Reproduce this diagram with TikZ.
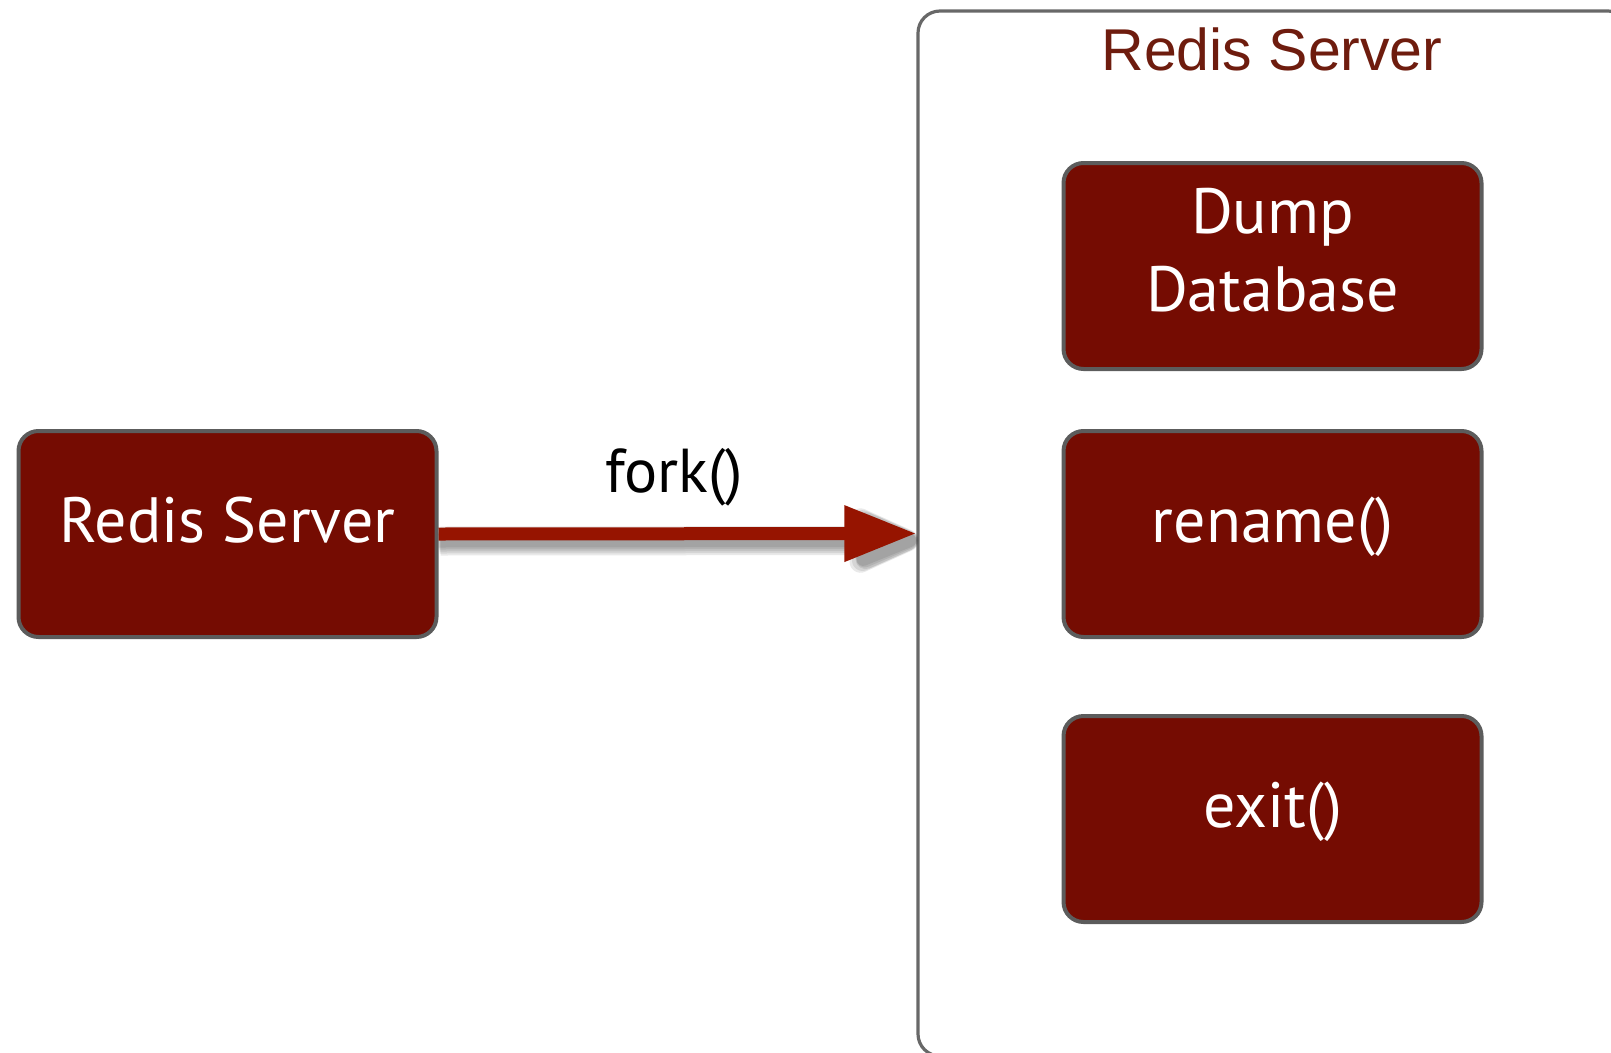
\documentclass[tikz,border=0pt]{standalone}
\usepackage{fontspec}
\newfontfamily\boxfont{PT Sans}
\newfontfamily\titlefont{Liberation Sans}
\usetikzlibrary{arrows.meta}
\definecolor{boxred}{RGB}{117,12,2}
\definecolor{boxline}{RGB}{92,92,92}
\definecolor{arrowred}{RGB}{150,20,0}
\definecolor{titlered}{RGB}{110,28,14}
\definecolor{frameline}{RGB}{104,104,104}
\begin{document}
\begin{tikzpicture}[x=1pt,y=-1pt,
  procbox/.style={draw=boxline, line width=4pt, fill=boxred, rounded corners=20pt,
    minimum width=418pt, minimum height=206pt, inner sep=0pt, text=white,
    font=\boxfont\fontsize{64}{78}\selectfont, align=center},
  oneline/.style={text height=46pt, text depth=30pt},
  hostframe/.style={draw=frameline, line width=3.2pt, rounded corners=22pt,
    minimum width=712pt, minimum height=1045pt, inner sep=0pt},
  hosttitle/.style={text=titlered, font=\titlefont\fontsize{59}{70}\selectfont, anchor=base},
  forklabel/.style={text=black, font=\boxfont\fontsize{62}{70}\selectfont, anchor=base},
  forkarrow/.style={draw=arrowred, fill=arrowred, line width=13pt, -{Triangle[length=72pt,width=53pt]}}
]
\useasboundingbox (0,0) rectangle (1611,1052);

% outer container
\node[hostframe] (host) at (1274,533.5) {};
\node[hosttitle] (title) at (1272,70) {Redis Server};

% left server
\node[procbox, oneline] (src) at (227.5,534) {Redis Server};

% child steps
\node[procbox, text height=124pt, text depth=34pt] (dump) at (1272.5,266) {Dump\\Database};
\node[procbox, oneline] (ren) at (1272.5,534) {rename()};
\node[procbox, oneline] (ext) at (1272.5,819) {exit()};

% soft shadow of the fork arrow
\foreach \lw/\al/\aw/\xs in {13/72/53/0, 17/76/57/0, 21/80/61/1, 25/84/65/1, 29/88/69/2}{
  \begin{scope}[transparency group, opacity=0.085, transform canvas={xshift=\xs pt, yshift=-7pt}]
    \draw[draw=black, fill=black, line width=\lw pt, -{Triangle[length=\al pt,width=\aw pt, round]}]
      (src.east) -- (host.west);
  \end{scope}
}
% fork arrow
\draw[forkarrow] (src.east) -- (host.west);
\node[forklabel] (forktxt) at (674,492) {fork()};
\end{tikzpicture}
\end{document}
